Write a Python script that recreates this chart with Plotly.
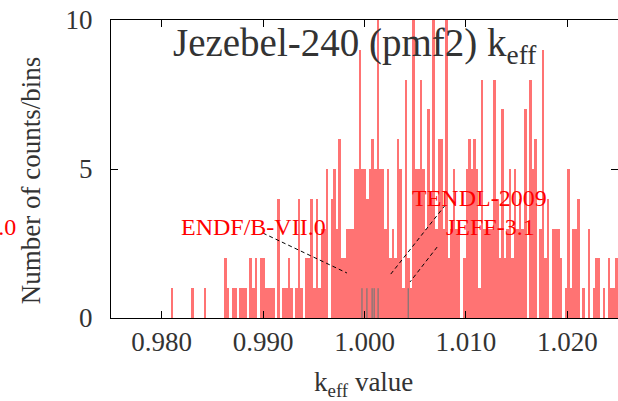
import numpy as np
import plotly.graph_objects as go

# Histogram of k_eff values from the random-file calculations
BIN_START = 0.98088      # left edge of the first bin
BIN_WIDTH = 0.0002507    # width of one bin
counts = [
    1, 0, 0, 0, 0, 0, 0, 0, 1, 0,
    0, 0, 0, 1, 0, 0, 0, 0, 0, 0,
    0, 2, 1, 0, 1, 1, 0, 1, 1, 1,
    0, 2, 1, 2, 0, 2, 2, 1, 1, 1,
    1, 0, 4, 0, 1, 1, 2, 1, 0, 1,
    4, 1, 0, 2, 2, 4, 1, 4, 1, 3,
    3, 5, 0, 4, 5, 3, 6, 2, 2, 3,
    3, 3, 5, 5, 9, 5, 5, 4, 5, 6,
    5, 10, 5, 5, 3, 5, 2, 3, 2, 6,
    5, 1, 8, 2, 1, 10, 5, 5, 8, 5,
    3, 7, 4, 10, 3, 6, 6, 3, 10, 2,
    3, 5, 3, 3, 0, 2, 5, 6, 5, 6,
    5, 1, 8, 3, 3, 3, 3, 8, 4, 2,
    7, 2, 3, 5, 2, 5, 3, 4, 3, 7,
    0, 8, 5, 6, 0, 3, 9, 2, 4, 0,
    3, 3, 3, 2, 0, 1, 5, 1, 3, 3,
    4, 0, 1, 0, 3, 0, 1, 2, 2, 0,
    1, 0, 2, 1, 1, 2,
]

# k_eff obtained with the evaluated libraries (drawn as short markers)
library_keff = [0.99975, 1.00024, 1.00075, 1.00095, 1.00134, 1.00431]
library_marker_height = 1

# Library labels inside the axes: text, centre position
label_text = ["ENDF/B-VII.0", "TENDL-2009", "JEFF-3.1"]
label_x = [0.98908, 1.01131, 1.01239]
label_y = [3.05, 4.03, 3.05]
# Label that sits left of the axes (paper coordinates, right-aligned)
outer_label_text = "JENDL-4.0"
outer_label_pos = (-0.184, 0.305)
# Leader lines: from label to the marked value
leader_from = [(0.98998, 2.85), (1.00797, 3.79), (1.00716, 2.38)]
leader_to = [(0.99827, 1.51), (1.00251, 1.44), (1.00449, 1.21)]

x_ticks = [0.980, 0.990, 1.000, 1.010, 1.020]
y_ticks = [0, 5, 10]

centers = BIN_START + BIN_WIDTH * (np.arange(len(counts)) + 0.5)

SERIF = "Liberation Serif"
TEXT = "#333333"
LABEL_RED = "#ff0000"

fig = go.Figure()
fig.add_trace(go.Bar(
    x=centers, y=counts, width=BIN_WIDTH,
    marker=dict(color="#ff7373", line=dict(width=0)),
    showlegend=False, hoverinfo="skip",
))

lx, ly = [], []
for v in library_keff:
    lx += [v, v, None]
    ly += [0, library_marker_height, None]
fig.add_trace(go.Scatter(
    x=lx, y=ly, mode="lines",
    line=dict(color="#5f7878", width=1),
    showlegend=False, hoverinfo="skip",
))

for (x0, y0), (x1, y1) in zip(leader_from, leader_to):
    fig.add_shape(type="line", x0=x0, y0=y0, x1=x1, y1=y1,
                  xref="x", yref="y",
                  line=dict(color="black", width=1, dash="4px,3px"))

for t, x, y in zip(label_text, label_x, label_y):
    fig.add_annotation(x=x, y=y, xref="x", yref="y", text=t,
                       showarrow=False, xanchor="center", yanchor="middle",
                       font=dict(family=SERIF, size=24, color=LABEL_RED))

fig.add_annotation(x=outer_label_pos[0], y=outer_label_pos[1],
                   xref="paper", yref="paper", text=outer_label_text,
                   showarrow=False, xanchor="right", yanchor="middle",
                   font=dict(family=SERIF, size=24, color=LABEL_RED))

fig.add_annotation(x=0.481, y=0.915, xref="paper", yref="paper",
                   text="Jezebel-240 (pmf2) k<sub>eff</sub>",
                   showarrow=False, xanchor="center", yanchor="middle",
                   font=dict(family=SERIF, size=39, color=TEXT))

fig.add_annotation(x=-0.158, y=0.462, xref="paper", yref="paper",
                   text="Number of counts/bins", textangle=-90,
                   showarrow=False, xanchor="center", yanchor="middle",
                   font=dict(family=SERIF, size=27, color=TEXT))

fig.add_annotation(x=0.499, y=-0.22, xref="paper", yref="paper",
                   text="k<sub>eff</sub> value",
                   showarrow=False, xanchor="center", yanchor="middle",
                   font=dict(family=SERIF, size=27, color=TEXT))

fig.update_layout(
    width=618, height=401,
    margin=dict(l=111, r=0, t=20, b=83),
    paper_bgcolor="white", plot_bgcolor="white",
    bargap=0, barmode="overlay",
    font=dict(family=SERIF, size=27, color=TEXT),
)
fig.update_xaxes(
    range=[0.975, 1.025], tickvals=x_ticks,
    ticktext=[f"{v:.3f}" for v in x_ticks],
    ticks="inside", ticklen=7, tickcolor="black",
    showline=True, linecolor="black", linewidth=1, mirror="ticks",
    showgrid=False, zeroline=False, ticklabelstandoff=0,
)
fig.update_yaxes(
    range=[0, 10], tickvals=y_ticks,
    ticks="inside", ticklen=7, tickcolor="black",
    showline=True, linecolor="black", linewidth=1, mirror="ticks",
    showgrid=False, zeroline=False, ticklabelstandoff=12,
)

fig.write_html("out.html")
